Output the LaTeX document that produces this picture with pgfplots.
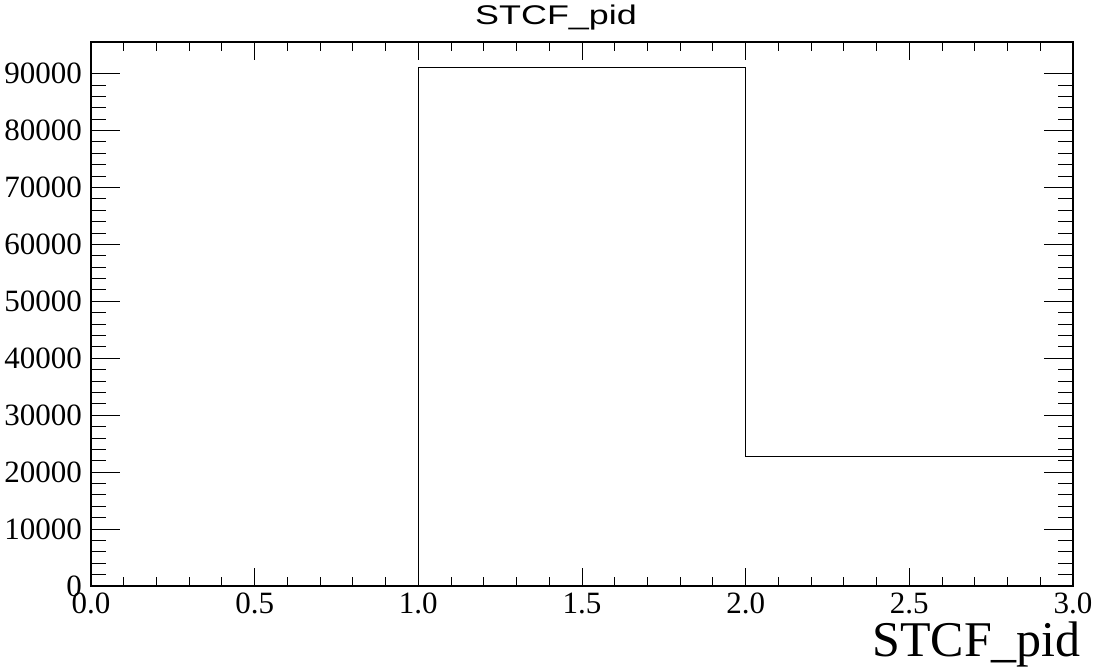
\documentclass[border=0pt]{standalone}
\usepackage{fontspec}
\setmainfont{Liberation Serif}
\newfontfamily\arialfont{Liberation Sans}
\usepackage{graphicx}
\usepackage{pgfplots}
\pgfplotsset{compat=1.18}
\begin{document}
\begin{tikzpicture}[x=1pt,y=1pt]
\path[use as bounding box] (0,0) rectangle (1094,668);
\pgfplotsset{
  rootaxis/.style={
    at={(91pt,82pt)}, anchor=south west,
    scale only axis, width=982pt, height=544pt,
    xmin=0, xmax=3, ymin=0, ymax=95550,
    tick align=inside,
    axis line style={line width=1.1pt},
    every tick/.style={black, line width=0.9pt},
    /pgf/number format/assume math mode=true,
    scaled y ticks=false,
    tick label style={font=\fontsize{31}{36}\selectfont},
  }
}
% y axis ticks
\begin{axis}[rootaxis,
  xtick=\empty,
  ytick={0,10000,...,90000},
  minor y tick num=4,
  major tick length=29pt, minor tick length=15pt,
  yticklabel style={/pgf/number format/fixed, /pgf/number format/1000 sep={}, inner sep=0pt, xshift=-9pt},
]
\addplot[const plot, black, line width=0.9pt] coordinates {(0,0) (1,91000) (2,22800) (3,22800)};
\end{axis}
% x axis ticks
\begin{axis}[rootaxis,
  ytick=\empty,
  xtick={0,0.5,...,3},
  minor x tick num=4,
  major tick length=18pt, minor tick length=9pt,
  xticklabel style={/pgf/number format/fixed, /pgf/number format/fixed zerofill, /pgf/number format/precision=1, inner sep=0pt, yshift=-7pt},
  xlabel={\fontsize{50}{56}\selectfont STCF\_pid},
  xlabel style={at={(rel axis cs:1,0)}, anchor=base east, yshift=-71pt, xshift=8pt, inner sep=0pt},
]
\end{axis}
\node[anchor=base, inner sep=0pt] at (556,643) {\arialfont\fontsize{27}{32}\selectfont\scalebox{1.33}[1]{STCF\_pid}};
\end{tikzpicture}
\end{document}
